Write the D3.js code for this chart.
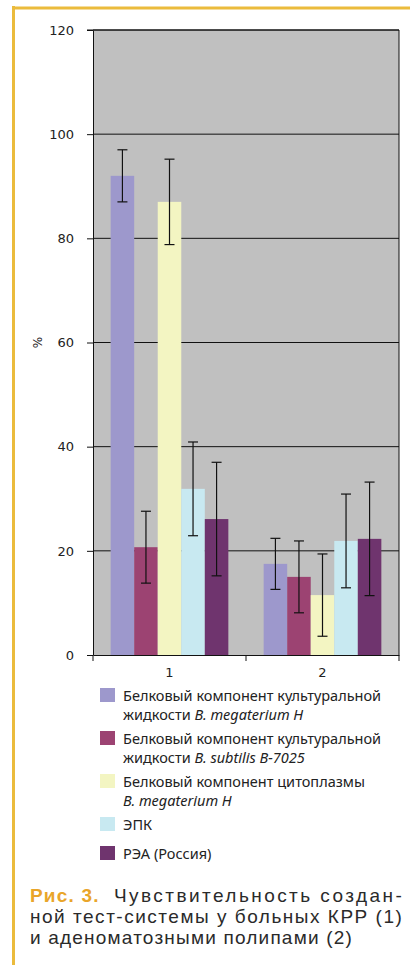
<!DOCTYPE html>
<html>
<head>
<meta charset="utf-8">
<script src="https://cdn.jsdelivr.net/npm/d3@7"></script>
<style>
  body { margin: 0; background: #fff; }
  svg { display: block; }
</style>
</head>
<body>
<div id="chart"></div>
<script>
// groups on the x axis
const categories = ["1", "2"];

// series: names for the legend, values and error (+/-) per group
const seriesKeys = ["bmegH", "bsub", "cyto", "epk", "rea"];
const seriesColors = ["#9d98cc", "#9c4372", "#f3f5c2", "#c8e9f1", "#6f346e"];
const valuesMegaterium = [92, 17.5];
const errMegaterium = [5, 4.9];
const valuesSubtilis = [20.7, 15.0];
const errSubtilis = [6.9, 6.9];
const valuesCytoplasm = [87, 11.5];
const errCytoplasm = [8.2, 7.9];
const valuesEpk = [31.9, 21.9];
const errEpk = [9, 9];
const valuesRea = [26.1, 22.3];
const errRea = [10.9, 10.9];

const yTicks = [0, 20, 40, 60, 80, 100, 120];

// legend lines: [text, italic?] pieces per line
const legendLabels = [
  [[["Белковый компонент культуральной", false]], [["жидкости ", false], ["B. megaterium  H", true]]],
  [[["Белковый компонент культуральной", false]], [["жидкости ", false], ["B. subtilis B-7025", true]]],
  [[["Белковый компонент цитоплазмы", false]], [["B. megaterium  H", true]]],
  [[["ЭПК", false]]],
  [[["РЭА (Россия)", false]]]
];

const captionLines = [
  "Чувствительность создан-",
  "ной тест-системы у больных КРР (1)",
  "и аденоматозными полипами (2)"
];

const allValues = [valuesMegaterium, valuesSubtilis, valuesCytoplasm, valuesEpk, valuesRea];
const allErrors = [errMegaterium, errSubtilis, errCytoplasm, errEpk, errRea];

const data = [];
categories.forEach((c, ci) => {
  seriesKeys.forEach((k, si) => {
    data.push({ cat: c, key: k, value: allValues[si][ci], err: allErrors[si][ci], color: seriesColors[si] });
  });
});

const W = 410, H = 965;
const plotLeft = 93, plotRight = 399, plotTop = 30, plotBottom = 655;

const svg = d3.select("#chart").append("svg")
  .attr("width", W)
  .attr("height", H);

// golden frame
svg.append("line")
  .attr("x1", 13.5).attr("x2", 13.5).attr("y1", 6).attr("y2", H)
  .attr("stroke", "#ebbb3c").attr("stroke-width", 3);
svg.append("line")
  .attr("x1", 12).attr("x2", W).attr("y1", 8).attr("y2", 8)
  .attr("stroke", "#ebbb3c").attr("stroke-width", 3);

const x0 = d3.scaleBand()
  .domain(categories)
  .range([plotLeft, plotRight])
  .paddingInner(0)
  .paddingOuter(0);

const x1 = d3.scaleBand()
  .domain(seriesKeys)
  .range([0, x0.bandwidth()])
  .paddingInner(0)
  .paddingOuter(0.75);

const y = d3.scaleLinear()
  .domain([0, 120])
  .range([plotBottom, plotTop]);

// plot background
svg.append("rect")
  .attr("x", plotLeft).attr("y", plotTop)
  .attr("width", plotRight - plotLeft).attr("height", plotBottom - plotTop)
  .attr("fill", "#c0c0c0");

// gridlines
svg.append("g")
  .selectAll("line")
  .data(yTicks.filter(t => t > 0))
  .enter()
  .append("line")
  .attr("x1", plotLeft).attr("x2", plotRight)
  .attr("y1", d => y(d)).attr("y2", d => y(d))
  .attr("stroke", "#111").attr("stroke-width", 1);

// right border
svg.append("line")
  .attr("x1", plotRight).attr("x2", plotRight)
  .attr("y1", plotTop).attr("y2", plotBottom)
  .attr("stroke", "#111");

// bars
svg.append("g")
  .selectAll("rect")
  .data(data)
  .enter()
  .append("rect")
  .attr("x", d => x0(d.cat) + x1(d.key))
  .attr("y", d => y(d.value))
  .attr("width", x1.bandwidth())
  .attr("height", d => y(0) - y(d.value))
  .attr("fill", d => d.color);

// error bars
const eb = svg.append("g").attr("stroke", "#111").attr("stroke-width", 1.2);
data.forEach(d => {
  const cx = x0(d.cat) + x1(d.key) + x1.bandwidth() / 2;
  const top = y(d.value + d.err), bot = y(d.value - d.err);
  eb.append("line").attr("x1", cx).attr("x2", cx).attr("y1", top).attr("y2", bot);
  eb.append("line").attr("x1", cx - 5).attr("x2", cx + 5).attr("y1", top).attr("y2", top);
  eb.append("line").attr("x1", cx - 5).attr("x2", cx + 5).attr("y1", bot).attr("y2", bot);
});

// y axis
const yAxis = svg.append("g")
  .attr("transform", `translate(${plotLeft},0)`)
  .call(d3.axisLeft(y).tickValues(yTicks).tickSize(6).tickPadding(13).tickSizeOuter(0));
yAxis.select(".domain").attr("stroke", "#111");
yAxis.selectAll(".tick line").attr("stroke", "#111");
yAxis.selectAll(".tick text")
  .attr("font-family", "DejaVu Sans")
  .attr("font-size", 13)
  .attr("fill", "#222");

// top border with small tick on the left
svg.append("line")
  .attr("x1", plotLeft - 6).attr("x2", plotRight)
  .attr("y1", plotTop).attr("y2", plotTop)
  .attr("stroke", "#111");

// x axis
const xAxis = svg.append("g")
  .attr("transform", `translate(0,${plotBottom})`)
  .call(d3.axisBottom(x0).tickSize(0).tickPadding(13));
xAxis.select(".domain").attr("stroke", "#111");
xAxis.selectAll(".tick text")
  .attr("font-family", "DejaVu Sans")
  .attr("font-size", 13)
  .attr("fill", "#222");
svg.append("g")
  .selectAll("line")
  .data([plotLeft, ...categories.map(c => x0(c) + x0.bandwidth())])
  .enter()
  .append("line")
  .attr("x1", d => d).attr("x2", d => d)
  .attr("y1", plotBottom).attr("y2", plotBottom + 6)
  .attr("stroke", "#111");

// y axis title
svg.append("text")
  .attr("transform", `translate(42,${y(60)}) rotate(-90)`)
  .attr("text-anchor", "middle")
  .attr("font-family", "DejaVu Sans")
  .attr("font-size", 12)
  .attr("fill", "#222")
  .text("%");

// legend
const legendTops = [688, 731, 774, 817, 846];
const legend = svg.append("g");
legendLabels.forEach((lines, i) => {
  legend.append("rect")
    .attr("x", 100).attr("y", legendTops[i])
    .attr("width", 15).attr("height", 14)
    .attr("fill", seriesColors[i]);
  lines.forEach((parts, li) => {
    const t = legend.append("text")
      .attr("x", 123)
      .attr("y", legendTops[i] + 13 + li * 18.5)
      .attr("font-family", "Noto Sans")
      .attr("font-size", 14.5)
      .attr("fill", "#222");
    parts.forEach(p => {
      t.append("tspan")
        .attr("font-style", p[1] ? "italic" : "normal")
        .text(p[0]);
    });
  });
});

// caption
const cap = svg.append("g")
  .attr("font-family", "Liberation Sans")
  .attr("font-size", 19)
  .attr("letter-spacing", 1.2)
  .attr("fill", "#2a2a2a");
const first = cap.append("text").attr("x", 30).attr("y", 902);
first.append("tspan").attr("font-weight", "bold").attr("fill", "#e9a52a").text("Рис. 3.");
first.append("tspan").attr("x", 114).text(captionLines[0])
  .attr("textLength", 289).attr("lengthAdjust", "spacing");
cap.append("text").attr("x", 30).attr("y", 923)
  .attr("textLength", 373).attr("lengthAdjust", "spacing")
  .text(captionLines[1]);
cap.append("text").attr("x", 30).attr("y", 944)
  .text(captionLines[2]);
</script>
</body>
</html>
